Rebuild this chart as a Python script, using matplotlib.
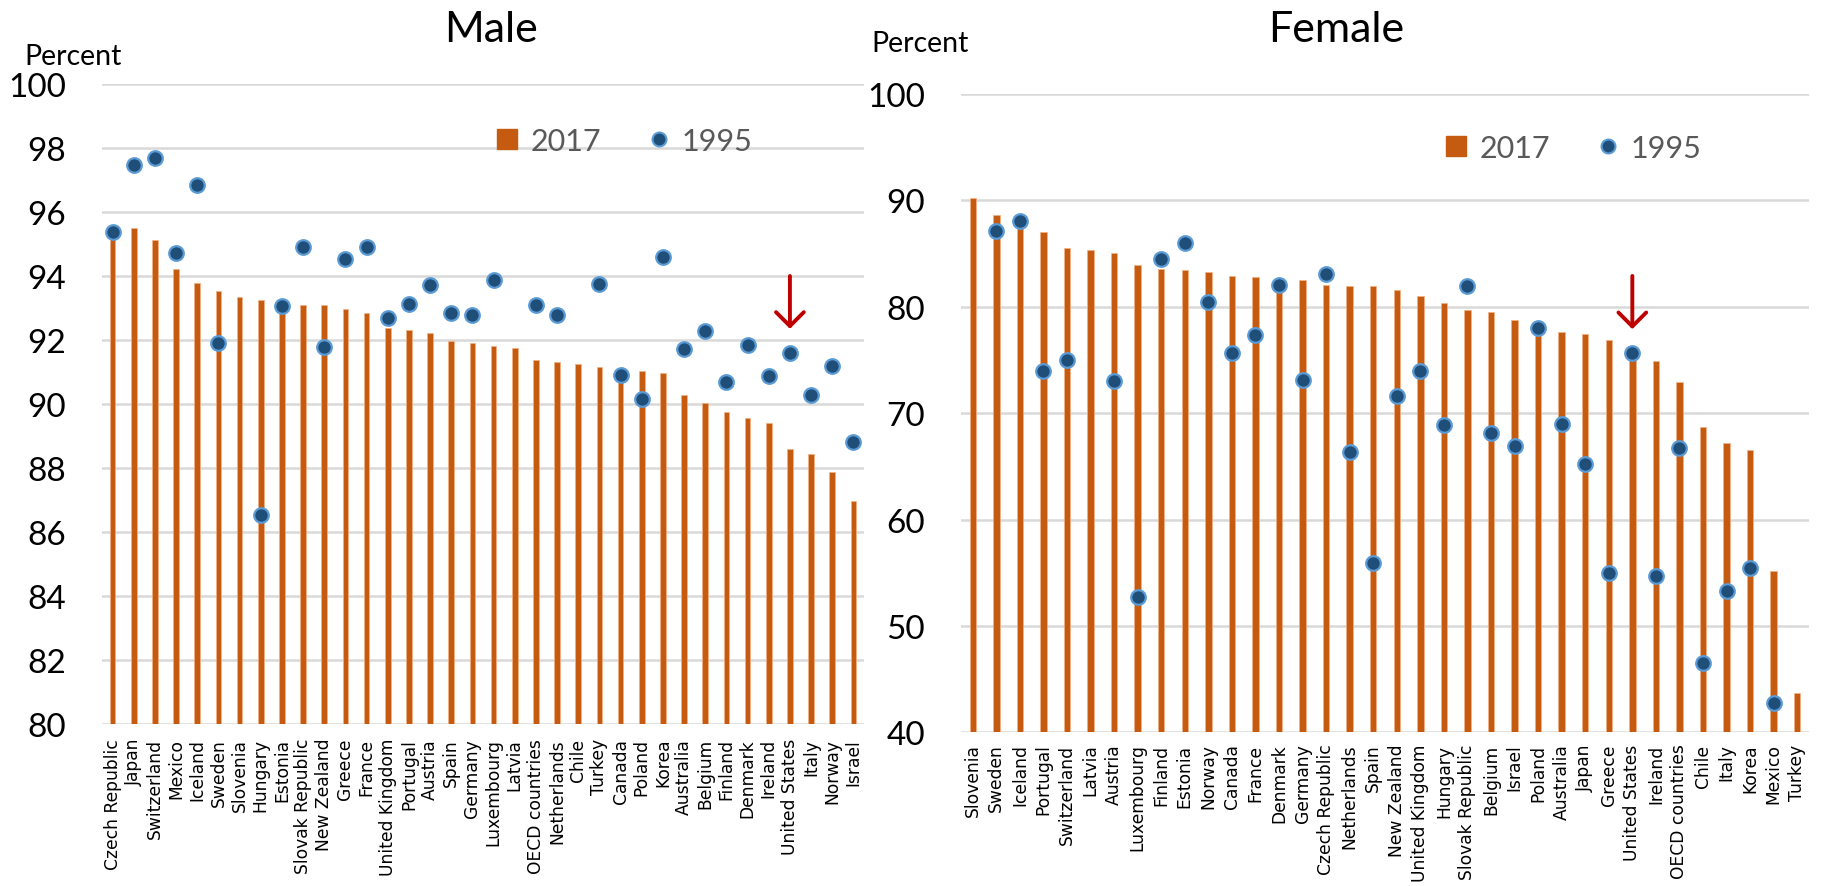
import numpy as np
import matplotlib.pyplot as plt
from matplotlib.lines import Line2D

nan = np.nan

# Male panel
male_countries = ['Czech Republic', 'Japan', 'Switzerland', 'Mexico', 'Iceland', 'Sweden',
                  'Slovenia', 'Hungary', 'Estonia', 'Slovak Republic', 'New Zealand', 'Greece',
                  'France', 'United Kingdom', 'Portugal', 'Austria', 'Spain', 'Germany',
                  'Luxembourg', 'Latvia', 'OECD countries', 'Netherlands', 'Chile', 'Turkey',
                  'Canada', 'Poland', 'Korea', 'Australia', 'Belgium', 'Finland', 'Denmark',
                  'Ireland', 'United States', 'Italy', 'Norway', 'Israel']
male_2017 = [95.6, 95.5, 95.13, 94.22, 93.78, 93.54, 93.33, 93.25, 93.1, 93.09, 93.08, 92.98,
             92.84, 92.38, 92.32, 92.23, 91.98, 91.92, 91.80, 91.75, 91.38, 91.31, 91.25, 91.16,
             91.1, 91.04, 90.97, 90.29, 90.02, 89.75, 89.57, 89.4, 88.59, 88.44, 87.88, 86.97]
male_1995 = [95.36, 97.48, 97.69, 94.71, 96.84, 91.9, nan, 86.53, 93.07, 94.9, 91.77, 94.53,
             94.9, 92.69, 93.13, 93.73, 92.84, 92.79, 93.88, nan, 93.09, 92.79, nan, 93.75,
             90.92, 90.16, 94.58, 91.72, 92.27, 90.70, 91.83, 90.86, 91.59, 90.29, 91.2, 88.8]

# Female panel
female_countries = ['Slovenia', 'Sweden', 'Iceland', 'Portugal', 'Switzerland', 'Latvia',
                    'Austria', 'Luxembourg', 'Finland', 'Estonia', 'Norway', 'Canada', 'France',
                    'Denmark', 'Germany', 'Czech Republic', 'Netherlands', 'Spain', 'New Zealand',
                    'United Kingdom', 'Hungary', 'Slovak Republic', 'Belgium', 'Israel', 'Poland',
                    'Australia', 'Japan', 'Greece', 'United States', 'Ireland', 'OECD countries',
                    'Chile', 'Italy', 'Korea', 'Mexico', 'Turkey']
female_2017 = [90.2, 88.65, 88.3, 87.0, 85.53, 85.37, 85.02, 83.96, 83.54, 83.5, 83.27, 82.9,
               82.77, 82.65, 82.5, 82.08, 81.98, 81.95, 81.57, 80.97, 80.34, 79.72, 79.5, 78.72,
               78.2, 77.62, 77.42, 76.92, 75.9, 74.95, 72.92, 68.68, 67.21, 66.56, 55.19, 43.69]
female_1995 = [nan, 87.1, 88.03, 73.98, 74.98, nan, 73.04, 52.68, 84.48, 85.97, 80.42, 75.7,
               77.34, 82.08, 73.1, 83.06, 66.4, 55.88, 71.57, 74.01, 68.87, 81.97, 68.18, 66.93,
               77.98, 69.03, 65.21, 54.97, 75.65, 54.72, 66.77, 46.48, 53.31, 55.41, 42.72, nan]

bar_color = '#C55A11'
dot_face = '#1F4E79'
dot_edge = '#5B9BD5'
grid_color = '#D9D9D9'
arrow_color = '#C00000'
num_font = 'Lato'

W, H = 1824, 887


def panel(fig, rect, countries, v2017, v1995, ylim, yticks, arrow_from, arrow_to,
          bar_width, label_pad, legend_xy):
    ax = fig.add_axes(rect)
    x = np.arange(len(countries))
    ax.bar(x, v2017, width=bar_width, color=bar_color, edgecolor='#F4B183',
           linewidth=0.5, zorder=2)
    ax.plot(x, v1995, ls='none', marker='o', ms=10.5, mfc=dot_face, mec=dot_edge,
            mew=1.6, zorder=3)

    us = countries.index('United States')
    ax.annotate('', xy=(us, arrow_to), xytext=(us, arrow_from),
                arrowprops=dict(arrowstyle='->, head_length=0.5, head_width=0.5',
                                color=arrow_color, lw=2.8, mutation_scale=20,
                                shrinkA=0, shrinkB=0), zorder=4)

    ax.set_xlim(-0.5, len(countries) - 0.5)
    ax.set_ylim(ylim)
    ax.set_yticks(yticks)
    ax.set_yticklabels([str(t) for t in yticks], fontfamily=num_font, fontsize=24)
    ax.set_xticks(x)
    ax.set_xticklabels(countries, rotation=90, fontsize=12.3, fontfamily='DejaVu Sans')
    ax.tick_params(axis='y', length=0, pad=26)
    ax.tick_params(axis='x', length=0, pad=label_pad)
    for s in ax.spines.values():
        s.set_visible(False)
    ax.grid(axis='y', color=grid_color, lw=1.8)
    ax.set_axisbelow(True)

    handles = [Line2D([], [], ls='none', marker='s', ms=14.5, mfc=bar_color, mec=bar_color),
               Line2D([], [], ls='none', marker='o', ms=10, mfc=dot_face, mec=dot_edge, mew=1.5)]
    leg = ax.legend(handles, ['2017', '1995'], ncol=2, loc='center left',
                    bbox_to_anchor=legend_xy, bbox_transform=fig.transFigure,
                    frameon=False, handlelength=1.0, handletextpad=0.25,
                    columnspacing=1.4, borderpad=0, borderaxespad=0,
                    prop={'family': num_font, 'size': 22})
    for t in leg.get_texts():
        t.set_color('#595959')
    return ax


fig = plt.figure(figsize=(W / 100, H / 100), dpi=100)

panel(fig, [102 / W, 1 - 725 / H, 762 / W, 640 / H], male_countries, male_2017, male_1995,
      (80, 100), list(range(80, 101, 2)), 94.0, 92.35, 0.26, 10,
      (492 / W, 1 - 142 / H))
panel(fig, [961 / W, 1 - 733.4 / H, 848 / W, 638.4 / H], female_countries, female_2017,
      female_1995, (40, 100), list(range(40, 101, 10)), 82.9, 77.9, 0.27, 8,
      (1441 / W, 1 - 149 / H))

fig.text(491 / W, 1 - 42 / H, 'Male', ha='center', va='baseline', fontsize=31,
         fontfamily=num_font)
fig.text(1336 / W, 1 - 42 / H, 'Female', ha='center', va='baseline', fontsize=31,
         fontfamily=num_font)
fig.text(24 / W, 1 - 65 / H, 'Percent', ha='left', va='baseline', fontsize=20.5,
         fontfamily=num_font)
fig.text(871 / W, 1 - 52 / H, 'Percent', ha='left', va='baseline', fontsize=20.5,
         fontfamily=num_font)

fig.savefig('out.png', dpi=100)
